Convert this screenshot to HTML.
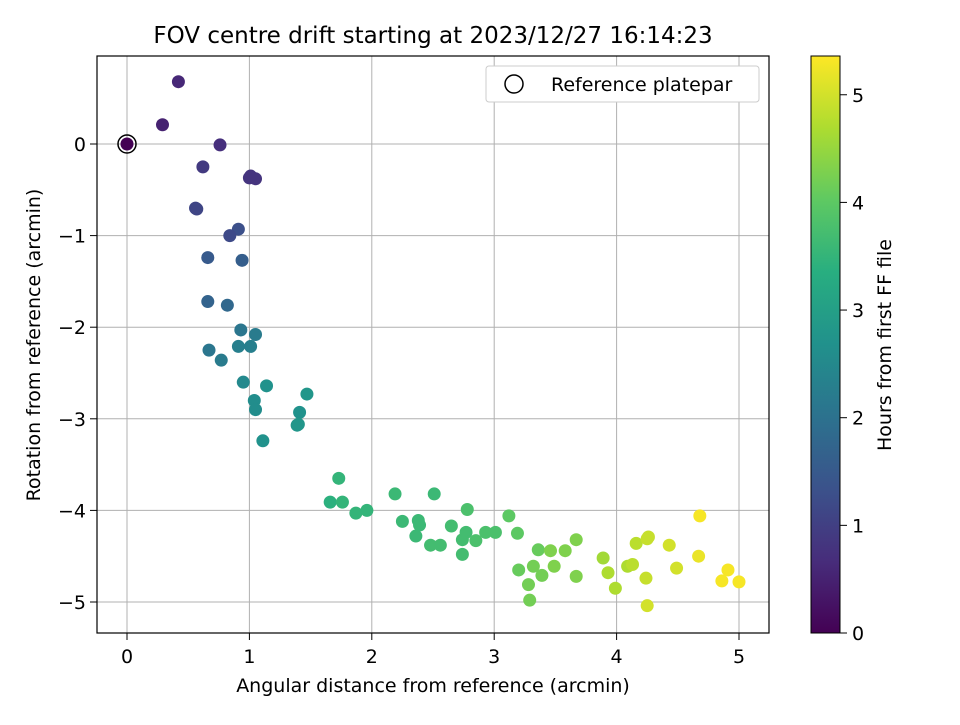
<!DOCTYPE html>
<html><head><meta charset="utf-8"><style>
body{margin:0;background:#fff;}
svg text{font-family:"DejaVu Sans","Liberation Sans",sans-serif;fill:#000;}
</style></head><body>
<svg id="chart" width="960" height="720" xmlns="http://www.w3.org/2000/svg">
<defs>
<linearGradient id="vir" x1="0" y1="1" x2="0" y2="0">
<stop offset="0" stop-color="#440154"/><stop offset="0.125" stop-color="#472d7b"/><stop offset="0.25" stop-color="#3b528b"/><stop offset="0.375" stop-color="#2c728e"/><stop offset="0.5" stop-color="#21918c"/><stop offset="0.625" stop-color="#28ae80"/><stop offset="0.75" stop-color="#5ec962"/><stop offset="0.875" stop-color="#addc30"/><stop offset="1" stop-color="#fde725"/>
</linearGradient>
<clipPath id="clip"><rect x="97" y="56" width="672" height="577"/></clipPath>
</defs>
<text x="433" y="43" font-size="23" text-anchor="middle">FOV centre drift starting at 2023/12/27 16:14:23</text>
<g id="grid"></g>
<g id="points" clip-path="url(#clip)"></g>
<rect x="97" y="56" width="672" height="577" fill="none" stroke="#000" stroke-width="1.2"/>
<g id="axes"></g>
<text x="433" y="692" font-size="19" text-anchor="middle">Angular distance from reference (arcmin)</text>
<text transform="translate(40,345) rotate(-90)" font-size="19" text-anchor="middle">Rotation from reference (arcmin)</text>
<g>
<rect x="486" y="66" width="273" height="36" rx="3" fill="#fff" stroke="#ccc"/>
<circle cx="514" cy="84" r="9" fill="none" stroke="#000" stroke-width="1.5"/>
<text x="551" y="91" font-size="19">Reference platepar</text>
</g>
<rect x="811" y="56" width="29" height="577" fill="url(#vir)" stroke="#000" stroke-width="1"/>
<g id="cbaxis"></g>
<text transform="translate(891,345) rotate(-90)" font-size="19" text-anchor="middle">Hours from first FF file</text>
</svg>
<script>
const xTicks=[0,1,2,3,4,5];
const yTicks=[0,-1,-2,-3,-4,-5];
const cTicks=[0,1,2,3,4,5];
const xs=[0,0.42,0.29,0.76,0.62,1.0,1.01,1.05,0.56,0.57,0.91,0.84,0.66,0.94,0.66,0.82,0.93,1.05,0.67,0.91,1.01,0.77,0.95,1.14,1.04,1.05,1.47,1.41,1.39,1.40,1.11,1.73,1.66,1.76,1.87,1.96,2.19,2.25,2.51,2.38,2.36,2.39,2.48,2.56,2.65,2.78,2.77,2.74,2.74,2.85,2.93,3.01,3.12,3.19,3.20,3.28,3.29,3.32,3.36,3.39,3.46,3.49,3.58,3.67,3.67,3.89,3.93,3.99,4.09,4.13,4.16,4.24,4.25,4.26,4.25,4.43,4.49,4.68,4.67,4.86,4.91,5.0];
const ys=[0,0.68,0.21,-0.01,-0.25,-0.37,-0.35,-0.38,-0.70,-0.71,-0.93,-1.00,-1.24,-1.27,-1.72,-1.76,-2.03,-2.08,-2.25,-2.21,-2.21,-2.36,-2.60,-2.64,-2.80,-2.90,-2.73,-2.93,-3.07,-3.06,-3.24,-3.65,-3.91,-3.91,-4.03,-4.00,-3.82,-4.12,-3.82,-4.11,-4.28,-4.16,-4.38,-4.38,-4.17,-3.99,-4.24,-4.32,-4.48,-4.33,-4.24,-4.24,-4.06,-4.25,-4.65,-4.81,-4.98,-4.61,-4.43,-4.71,-4.44,-4.61,-4.44,-4.32,-4.72,-4.52,-4.68,-4.85,-4.61,-4.59,-4.36,-4.74,-4.31,-4.29,-5.04,-4.38,-4.63,-4.06,-4.50,-4.77,-4.65,-4.78];
const hrs=[0,0.6,0.5,0.7,0.9,0.8,0.8,0.8,1.1,1.1,1.3,1.2,1.5,1.6,1.7,1.8,2.1,2.2,2.1,2.3,2.3,2.2,2.5,2.7,2.6,2.6,2.8,2.7,2.8,2.8,2.7,3.5,3.4,3.5,3.5,3.5,3.6,3.6,3.6,3.6,3.6,3.6,3.7,3.7,3.7,3.8,3.7,3.7,3.7,3.8,3.8,3.8,4.0,4.0,4.1,4.2,4.2,4.2,4.1,4.2,4.3,4.3,4.3,4.3,4.3,4.6,4.7,4.7,4.7,4.8,4.8,4.9,4.9,4.9,5.0,5.0,5.0,5.3,5.2,5.3,5.3,5.3];
const X=v=>127+v*122.4, Y=v=>144-v*91.6, C=v=>633-v*(577/5.36);
const vir=[[68,1,84],[71,45,123],[59,82,139],[44,114,142],[33,145,140],[40,174,128],[94,201,98],[173,220,48],[253,231,37]];
function col(h){let t=Math.max(0,Math.min(1,h/5.36))*8,i=Math.min(7,Math.floor(t)),f=t-i;const a=vir[i],b=vir[i+1];return `rgb(${a.map((v,k)=>Math.round(v+(b[k]-v)*f)).join(',')})`;}
const NS='http://www.w3.org/2000/svg';
function mk(tag,attrs,parent,text){const e=document.createElementNS(NS,tag);for(const k in attrs)e.setAttribute(k,attrs[k]);if(text!==undefined)e.textContent=text;parent.appendChild(e);return e;}
const grid=document.getElementById('grid'),axes=document.getElementById('axes'),pts=document.getElementById('points'),cb=document.getElementById('cbaxis');
xTicks.forEach(t=>{const x=X(t);
const g=mk('line',{x1:x,x2:x,y1:56,y2:633,stroke:'#b0b0b0','stroke-width':1},grid);


const tk=mk('line',{x1:x,x2:x,y1:633,y2:640,stroke:'#000'},axes);


const l=mk('text',{x:x,y:663,'font-size':19,'text-anchor':'middle'},axes,String(t));

});
yTicks.forEach(t=>{const y=Y(t);
const g=mk('line',{x1:97,x2:769,y1:y,y2:y,stroke:'#b0b0b0','stroke-width':1},grid);


const tk=mk('line',{x1:90,x2:97,y1:y,y2:y,stroke:'#000'},axes);


const l=mk('text',{x:86,y:y+7,'font-size':19,'text-anchor':'end'},axes,t===0?'0':'\u2212'+Math.abs(t));

});
cTicks.forEach(t=>{const y=C(t);
const tk=mk('line',{x1:840,x2:847,y1:y,y2:y,stroke:'#000'},cb);


const l=mk('text',{x:852,y:y+7,'font-size':19},cb,String(t));

});
xs.forEach((v,i)=>{const c=mk('circle',{cx:X(v),cy:Y(ys[i]),r:6.5,fill:col(hrs[i])},pts);

});
const ref=mk('circle',{cx:X(0),cy:Y(0),r:9,fill:'none',stroke:'#000','stroke-width':1.5},pts);


</script>
</body></html>
